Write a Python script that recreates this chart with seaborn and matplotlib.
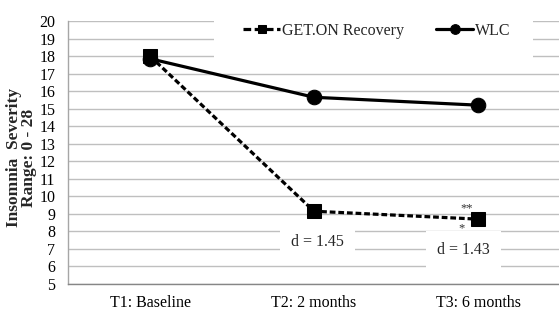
import matplotlib
matplotlib.use("Agg")
import matplotlib.pyplot as plt
from matplotlib.patches import Rectangle
import seaborn as sns
import pandas as pd

categories = ["T1: Baseline", "T2: 2 months", "T3: 6 months"]
geton_values = [18.0, 9.15, 8.7]
wlc_values = [17.85, 15.65, 15.2]
y_ticks = list(range(5, 21))
effect_labels = ["d = 1.45", "d = 1.43"]

sns.set_theme(style="white")
plt.rcParams["font.family"] = ["Liberation Serif", "DejaVu Serif"]

fig = plt.figure(figsize=(5.59, 3.10), dpi=100)
ax = fig.add_axes([68 / 559, 1 - 284 / 310, 492 / 559, 263 / 310])

df_g = pd.DataFrame({"t": categories, "v": geton_values})
df_w = pd.DataFrame({"t": categories, "v": wlc_values})

sns.lineplot(data=df_w, x="t", y="v", ax=ax, color="black", linewidth=2.3,
             marker="o", markersize=10.5, markeredgecolor="black", label="WLC", zorder=3)
sns.lineplot(data=df_g, x="t", y="v", ax=ax, color="black", linewidth=2.3,
             marker="s", markersize=10, markeredgecolor="black", label="GET.ON Recovery",
             zorder=4)
ax.lines[1].set_dashes((1.8, 0.9))

ax.set_xlim(-0.5, 2.5)
ax.set_ylim(5, 20)
ax.set_yticks(y_ticks)
ax.yaxis.grid(True, color="#BFBFBF", linewidth=1.0)
ax.set_axisbelow(True)
for s in ["top", "right"]:
    ax.spines[s].set_visible(False)
ax.spines["left"].set_color("#A6A6A6")
ax.spines["left"].set_linewidth(1.0)
ax.spines["bottom"].set_color("#868686")
ax.spines["bottom"].set_linewidth(1.0)
ax.tick_params(axis="both", length=0, labelsize=11.5, colors="black")
ax.tick_params(axis="y", pad=9)
ax.tick_params(axis="x", pad=8)
ax.set_xlabel("")
ax.set_ylabel("Insomnia  Severity\nRange: 0 - 28", fontsize=12.5, fontweight="bold",
              linespacing=0.95)
ax.yaxis.set_label_coords(-0.062, 0.48)

bbox = dict(boxstyle="square,pad=0.7", facecolor="white", edgecolor="none")
ax.text(1.02, 7.4, effect_labels[0], ha="center", va="center", fontsize=11.5, bbox=bbox, zorder=2)
ax.text(1.91, 6.93, effect_labels[1], ha="center", va="center", fontsize=11.5, bbox=bbox, zorder=2)
ax.text(1.93, 9.3, "**", ha="center", va="center", fontsize=9, color="#333333", zorder=5)
ax.text(1.90, 8.15, "*", ha="center", va="center", fontsize=9, color="#333333", zorder=5)

# white legend area covering gridlines
ax.add_patch(Rectangle((0.297, 0.844), 0.648, 0.18, transform=ax.transAxes,
                       facecolor="white", edgecolor="none", zorder=1.5, clip_on=False))

h, l = ax.get_legend_handles_labels()
leg = ax.legend(h[::-1], l[::-1], loc="center left", bbox_to_anchor=(0.356, 0.962), ncol=2,
                frameon=False, fontsize=11.5, handlelength=2.3, handletextpad=0.15,
                columnspacing=2.0, borderpad=0, borderaxespad=0)
leg.set_zorder(6)
lines = leg.get_lines()
lines[0].set_markersize(6)
lines[0].set_dashes((2.4, 1.1))
lines[1].set_markersize(7)

fig.savefig("out.png", dpi=100)
